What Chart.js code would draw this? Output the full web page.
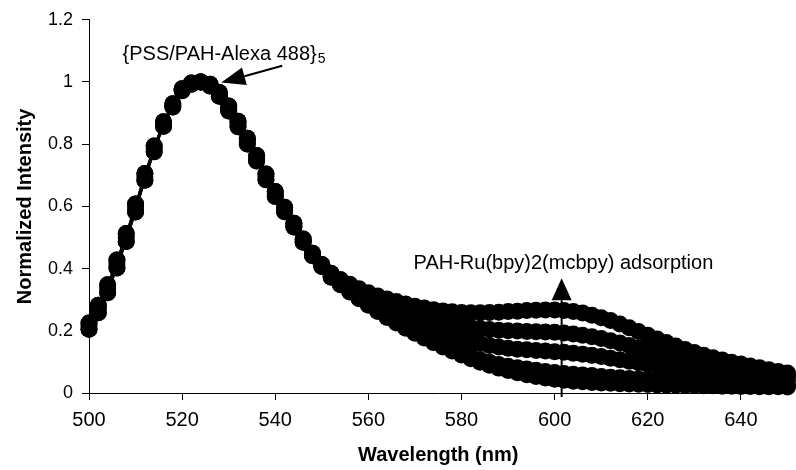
<!DOCTYPE html>
<html>
<head>
<meta charset="utf-8">
<script src="https://cdn.jsdelivr.net/npm/chart.js@4.4.1/dist/chart.umd.min.js"></script>
<style>
  body { margin: 0; background: #fff; }
  #wrap { width: 796px; height: 470px; }
</style>
</head>
<body>
<div id="wrap"><canvas id="spectra" width="796" height="470"></canvas></div>
<script>
// Longitudes de onda (nm), un punto cada 2 nm
const wavelengths = [
    500, 502, 504, 506, 508, 510, 512, 514, 516, 518,
    520, 522, 524, 526, 528, 530, 532, 534, 536, 538,
    540, 542, 544, 546, 548, 550,
    552, 554, 556, 558, 560, 562, 564, 566, 568, 570,
    572, 574, 576, 578, 580, 582, 584, 586, 588, 590,
    592, 594, 596, 598, 600, 602, 604, 606, 608, 610,
    612, 614, 616, 618, 620, 622, 624, 626, 628, 630,
    632, 634, 636, 638, 640, 642, 644, 646, 648, 650
];

// Pico del Alexa 488 (500-550 nm): casi igual en todas las curvas
const peakUpper = [
    0.225, 0.282, 0.348, 0.428, 0.513, 0.608, 0.706, 0.794, 0.872, 0.93,
    0.978, 0.997, 1.0, 0.993, 0.966, 0.923, 0.874, 0.819, 0.764, 0.704,
    0.648, 0.597, 0.546, 0.495, 0.449, 0.413
];
const peakMiddle = [
    0.215, 0.27, 0.335, 0.415, 0.5, 0.595, 0.695, 0.785, 0.865, 0.925,
    0.975, 0.995, 1.0, 0.99, 0.96, 0.915, 0.865, 0.81, 0.755, 0.695,
    0.64, 0.59, 0.54, 0.49, 0.445, 0.41
];
const peakLower = [
    0.205, 0.258, 0.322, 0.402, 0.487, 0.582, 0.684, 0.776, 0.858, 0.92,
    0.972, 0.993, 1.0, 0.987, 0.954, 0.907, 0.856, 0.801, 0.746, 0.686,
    0.632, 0.583, 0.534, 0.485, 0.441, 0.407
];

// Colas de cada curva (552-650 nm)
const tailLayer5 = [
    0.385, 0.365, 0.35, 0.335, 0.322, 0.312, 0.302, 0.294, 0.286, 0.279,
    0.273, 0.268, 0.264, 0.261, 0.259, 0.258, 0.258, 0.259, 0.26, 0.262,
    0.263, 0.265, 0.266, 0.267, 0.267, 0.265, 0.262, 0.257, 0.25, 0.242,
    0.233, 0.222, 0.21, 0.198, 0.186, 0.174, 0.162, 0.151, 0.14, 0.13,
    0.121, 0.113, 0.106, 0.099, 0.093, 0.087, 0.081, 0.075, 0.069, 0.064
];
const tailLayer4 = [
    0.383, 0.362, 0.345, 0.328, 0.313, 0.3, 0.287, 0.276, 0.265, 0.255,
    0.246, 0.237, 0.229, 0.222, 0.216, 0.211, 0.207, 0.204, 0.202, 0.2,
    0.199, 0.198, 0.197, 0.196, 0.195, 0.193, 0.19, 0.186, 0.181, 0.175,
    0.168, 0.161, 0.153, 0.145, 0.137, 0.129, 0.121, 0.114, 0.107, 0.1,
    0.094, 0.088, 0.083, 0.078, 0.073, 0.069, 0.065, 0.061, 0.057, 0.054
];
const tailLayer3 = [
    0.378, 0.355, 0.335, 0.316, 0.299, 0.283, 0.268, 0.254, 0.241, 0.228,
    0.216, 0.204, 0.193, 0.183, 0.174, 0.166, 0.159, 0.153, 0.148, 0.144,
    0.141, 0.139, 0.137, 0.135, 0.133, 0.131, 0.128, 0.125, 0.121, 0.117,
    0.112, 0.107, 0.102, 0.097, 0.092, 0.087, 0.082, 0.077, 0.073, 0.069,
    0.065, 0.061, 0.058, 0.055, 0.052, 0.049, 0.046, 0.044, 0.042, 0.04
];
const tailLayer2 = [
    0.373, 0.349, 0.326, 0.305, 0.285, 0.266, 0.248, 0.231, 0.215, 0.2,
    0.186, 0.17, 0.155, 0.141, 0.128, 0.117, 0.107, 0.099, 0.092, 0.086,
    0.081, 0.077, 0.073, 0.069, 0.066, 0.063, 0.06, 0.058, 0.056, 0.053,
    0.051, 0.049, 0.047, 0.045, 0.043, 0.041, 0.04, 0.038, 0.037, 0.035,
    0.034, 0.033, 0.032, 0.031, 0.03, 0.029, 0.028, 0.027, 0.026, 0.025
];
const tailLayer1 = [
    0.372, 0.348, 0.325, 0.303, 0.282, 0.262, 0.243, 0.225, 0.208, 0.192,
    0.177, 0.162, 0.148, 0.135, 0.122, 0.11, 0.099, 0.089, 0.08, 0.072,
    0.065, 0.059, 0.053, 0.048, 0.044, 0.041, 0.038, 0.036, 0.034, 0.032,
    0.031, 0.03, 0.029, 0.028, 0.027, 0.026, 0.025, 0.025, 0.024, 0.024,
    0.023, 0.023, 0.022, 0.022, 0.021, 0.021, 0.02, 0.02, 0.02, 0.019
];

const yTicks = [0, 0.2, 0.4, 0.6, 0.8, 1, 1.2];

// Textos de las anotaciones (posición en unidades de datos)
const alexaNote = { text: "{PSS/PAH-Alexa 488}", sub: "5", x: 507.2, y: 1.072,
    arrowFrom: [541.5, 1.052], arrowTo: [528.4, 0.998] };
const rutheniumNote = { text: "PAH-Ru(bpy)2(mcbpy) adsorption", x: 569.7, y: 0.398,
    arrowFrom: [601.5, 0], arrowTo: [601.5, 0.369] };

const FONT = "'Liberation Sans', Arial, sans-serif";
Chart.defaults.font.family = FONT;
Chart.defaults.color = "#000";

// Construye los puntos {x, y} de cada curva
const buildSeries = (peak, tail) => {
    const values = peak.concat(tail);
    return wavelengths.map((w, i) => ({ x: w, y: values[i] }));
};

const layers = [
    [peakLower, tailLayer1],
    [peakLower, tailLayer2],
    [peakMiddle, tailLayer3],
    [peakUpper, tailLayer4],
    [peakUpper, tailLayer5],
];
const datasets = layers.map(([peak, tail], i) => ({
    label: `layer ${i + 1}`,
    data: buildSeries(peak, tail),
    clip: false,
    showLine: true,
    borderColor: "#000",
    borderWidth: 1.5,
    pointRadius: 8.5,
    pointHoverRadius: 8.5,
    pointBackgroundColor: "#000",
    pointBorderColor: "#000",
    pointBorderWidth: 0,
}));

// Dibuja una flecha con punta triangular rellena
const drawArrow = (ctx, x1, y1, x2, y2, headLen, headHalf) => {
    const ang = Math.atan2(y2 - y1, x2 - x1);
    const bx = x2 - headLen * Math.cos(ang);
    const by = y2 - headLen * Math.sin(ang);
    ctx.lineWidth = 2;
    ctx.beginPath();
    ctx.moveTo(x1, y1);
    ctx.lineTo(bx, by);
    ctx.stroke();
    ctx.beginPath();
    ctx.moveTo(x2, y2);
    ctx.lineTo(bx + headHalf * Math.sin(ang), by - headHalf * Math.cos(ang));
    ctx.lineTo(bx - headHalf * Math.sin(ang), by + headHalf * Math.cos(ang));
    ctx.closePath();
    ctx.fill();
};

const notesPlugin = {
    id: "notes",
    afterDatasetsDraw(chart) {
        const { ctx, scales: { x, y } } = chart;
        ctx.save();
        ctx.fillStyle = "#000";
        ctx.strokeStyle = "#000";
        ctx.textBaseline = "alphabetic";
        ctx.textAlign = "left";

        // {PSS/PAH-Alexa 488}5
        ctx.font = `20px ${FONT}`;
        const ax = x.getPixelForValue(alexaNote.x);
        const ay = y.getPixelForValue(alexaNote.y);
        ctx.fillText(alexaNote.text, ax, ay);
        const w = ctx.measureText(alexaNote.text).width;
        ctx.font = `14px ${FONT}`;
        ctx.fillText(alexaNote.sub, ax + w + 1, ay + 3);
        drawArrow(ctx,
            x.getPixelForValue(alexaNote.arrowFrom[0]), y.getPixelForValue(alexaNote.arrowFrom[1]),
            x.getPixelForValue(alexaNote.arrowTo[0]), y.getPixelForValue(alexaNote.arrowTo[1]),
            24, 9);

        // PAH-Ru(bpy)2(mcbpy) adsorption
        ctx.font = `20px ${FONT}`;
        ctx.fillText(rutheniumNote.text, x.getPixelForValue(rutheniumNote.x), y.getPixelForValue(rutheniumNote.y));
        drawArrow(ctx,
            x.getPixelForValue(rutheniumNote.arrowFrom[0]), y.getPixelForValue(rutheniumNote.arrowFrom[1]) + 4,
            x.getPixelForValue(rutheniumNote.arrowTo[0]), y.getPixelForValue(rutheniumNote.arrowTo[1]),
            22, 10);
        ctx.restore();
    },
};

const ctx = document.getElementById("spectra").getContext("2d");
const spectraChart = new Chart(ctx, {
    type: "scatter",
    data: { datasets },
    plugins: [notesPlugin],
    options: {
        responsive: false,
        animation: false,
        layout: { padding: { top: 18, right: 0, bottom: 0, left: 0 } },
        plugins: {
            legend: { display: false },
            tooltip: { enabled: false },
        },
        scales: {
            x: {
                type: "linear",
                min: 500,
                max: 650,
                ticks: {
                    stepSize: 20,
                    includeBounds: false,
                    maxRotation: 0,
                    padding: 8,
                    font: { size: 20 },
                },
                grid: { drawOnChartArea: false, tickLength: 7, color: "#000" },
                border: { color: "#000", width: 1 },
                title: {
                    display: true,
                    text: "Wavelength (nm)",
                    font: { size: 20, weight: "bold" },
                    padding: { top: 0, bottom: 3 },
                },
                afterFit: (scale) => { scale.height = 77; },
            },
            y: {
                min: 0,
                max: 1.2,
                afterBuildTicks: (scale) => { scale.ticks = yTicks.map((v) => ({ value: v })); },
                ticks: {
                    padding: 9,
                    font: { size: 18 },
                    callback: (v) => String(Math.round(v * 10) / 10),
                },
                grid: { drawOnChartArea: false, tickLength: 7, color: "#000" },
                border: { color: "#000", width: 1 },
                title: {
                    display: true,
                    text: "Normalized Intensity",
                    font: { size: 20, weight: "bold" },
                    padding: { top: 13, bottom: 0 },
                },
                afterFit: (scale) => { scale.width = 89; },
            },
        },
    },
});
</script>
</body>
</html>
